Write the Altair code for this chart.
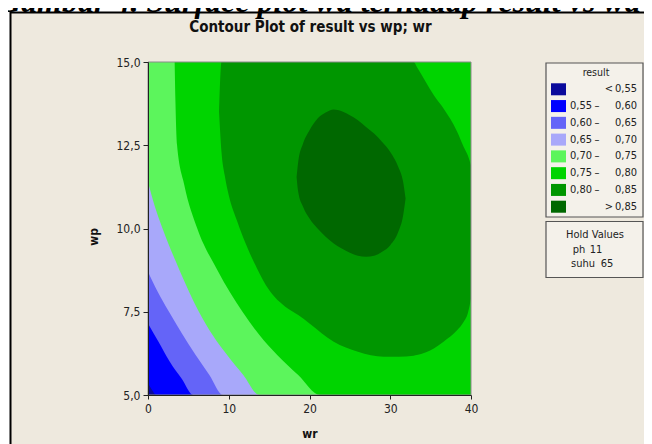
import altair as alt
import pandas as pd

# ---------------- data ----------------
# Each contour band is drawn as its super-level region (result > level):
# for every wr sample, the region spans wp from *_lo to *_hi.
base_wr = [0, 40]
base_lo = [5.0, 5.0]
base_hi = [15.0, 15.0]

r055_wr = [0, 0.5, 1.0, 40]
r055_lo = [5.35, 5.15, 5.0, 5.0]
r055_hi = [15, 15, 15, 15]

r060_wr = [0, 1.3, 2.7, 4.2, 5.6, 40]
r060_lo = [7.15, 6.6, 6.0, 5.48, 5.0, 5.0]
r060_hi = [15, 15, 15, 15, 15, 15]

r065_wr = [0, 1.2, 2.6, 4.2, 5.9, 7.6, 9.3, 40]
r065_lo = [8.7, 8.1, 7.5, 6.85, 6.2, 5.6, 5.0, 5.0]
r065_hi = [15, 15, 15, 15, 15, 15, 15, 15]

r070_wr = [0, 0.8, 1.8, 3.9, 6.3, 8.0, 9.8, 11.8, 13.8, 40]
r070_lo = [11.4, 10.7, 10.0, 8.75, 7.5, 6.8, 6.2, 5.6, 5.0, 5.0]
r070_hi = [15, 15, 15, 15, 15, 15, 15, 15, 15, 15]

r075_wr = [3.3, 3.4, 3.6, 4.5, 6.1, 8.6, 11.7, 13.8, 16.0, 18.6, 21.3, 40]
r075_lo = [15, 13.8, 12.5, 11.3, 10.0, 8.75, 7.5, 6.8, 6.2, 5.6, 5.0, 5.0]
r075_hi = [15, 15, 15, 15, 15, 15, 15, 15, 15, 15, 15, 15]

r080_wr = [8.8, 9.1, 9.5, 10.0, 11.0, 12.0, 13.5, 15.0, 17.0, 18.6, 20.0, 23.0,
           26.0, 29.2, 31.0, 32.9, 33.3, 35.4, 36.6, 38.3, 39.1, 39.6, 40.0]
r080_lo = [13.5, 12.3, 11.6, 11.0, 10.25, 9.6, 8.8, 8.15, 7.65, 7.4, 7.15, 6.6,
           6.3, 6.15, 6.15, 6.18, 6.2, 6.4, 6.6, 6.95, 7.2, 7.45, 7.9]
r080_hi = [13.5, 15, 15, 15, 15, 15, 15, 15, 15, 15, 15, 15,
           15, 15, 15, 15, 14.85, 14.0, 13.6, 12.9, 12.45, 12.2, 11.9]

r085_wr = [18.4, 18.6, 19.2, 20, 21, 22, 23, 24, 25, 26, 27, 28, 29, 30, 31, 31.6, 31.9]
r085_lo = [11.55, 11.1, 10.65, 10.3, 10.0, 9.75, 9.55, 9.4, 9.27, 9.18, 9.15, 9.18,
           9.3, 9.5, 9.9, 10.4, 10.9]
r085_hi = [11.55, 12.0, 12.55, 12.95, 13.3, 13.48, 13.57, 13.52, 13.4, 13.25, 13.05,
           12.85, 12.6, 12.3, 11.85, 11.4, 10.9]

band_colors = ["#0A0A9C", "#0000FF", "#6464F8", "#A8A8FA",
               "#5CF55C", "#00D400", "#009600", "#006800"]
legend_lo = ["", "0,55", "0,60", "0,65", "0,70", "0,75", "0,80", ""]
legend_sep = ["<", "\u2013", "\u2013", "\u2013", "\u2013", "\u2013", "\u2013", ">"]
legend_hi = ["0,55", "0,60", "0,65", "0,70", "0,75", "0,80", "0,85", "0,85"]

hold_names = ["ph", "suhu"]
hold_values = ["11", "65"]

x_ticks = [0, 10, 20, 30, 40]
y_ticks = [5.0, 7.5, 10.0, 12.5, 15.0]

# ---------------- styling ----------------
W, H = 323, 333
BG = "#EEE9DE"
FONT = "DejaVu Sans Condensed, DejaVu Sans"
one = pd.DataFrame({"k": [0]})

xscale = alt.Scale(domain=[0, 40], nice=False, zero=False)
yscale = alt.Scale(domain=[5, 15], nice=False, zero=False)
xaxis = alt.Axis(values=x_ticks, format="d", title="wr", titleFont=FONT,
                 titleFontSize=12, titleFontWeight="bold", titleColor="#111",
                 titleX=W / 2, titleY=38, titleBaseline="middle",
                 labelFont=FONT, labelFontSize=12, labelColor="#222",
                 labelPadding=4, tickSize=4, tickColor="#222",
                 domainColor="#222", grid=False, labelFlush=False, zindex=1)
yaxis = alt.Axis(values=y_ticks, title="wp", titleFont=FONT, titleFontSize=12,
                 titleFontWeight="bold", titleColor="#111", titleAngle=-90,
                 titleX=-55, titleY=H / 2 + 8, titleBaseline="middle",
                 labelExpr="replace(format(datum.value, '.1f'), '.', ',')",
                 labelFont=FONT, labelFontSize=12, labelColor="#222",
                 labelPadding=3, tickSize=5, tickColor="#222",
                 domainColor="#222", grid=False, labelFlush=False, zindex=1)


def region(wr, lo, hi, color):
    df = pd.DataFrame({"wr": wr, "lo": lo, "hi": hi})
    return alt.Chart(df).mark_area(color=color, interpolate="monotone", clip=True).encode(
        x=alt.X("wr:Q", scale=xscale, axis=xaxis),
        y=alt.Y("lo:Q", scale=yscale, axis=yaxis),
        y2="hi:Q",
    )


regions = [
    (base_wr, base_lo, base_hi),
    (r055_wr, r055_lo, r055_hi),
    (r060_wr, r060_lo, r060_hi),
    (r065_wr, r065_lo, r065_hi),
    (r070_wr, r070_lo, r070_hi),
    (r075_wr, r075_lo, r075_hi),
    (r080_wr, r080_lo, r080_hi),
    (r085_wr, r085_lo, r085_hi),
]
contour = alt.layer(*[region(w, l, h, c) for (w, l, h), c in zip(regions, band_colors)])

# decorations (page frame, top cut caption, title, plot border)
frame = alt.Chart(one).mark_rect(fill=BG, stroke="#000", strokeWidth=2).encode(
    x=alt.value(-137.5), x2=alt.value(520), y=alt.value(-49.5), y2=alt.value(400))
caption = alt.Chart(one).mark_text(
    text="Gambar 4.  Surface plot wa terhadap result vs wa", font="Liberation Serif",
    fontSize=32, fontWeight="bold", fontStyle="italic", align="left",
    baseline="alphabetic", color="#000").encode(x=alt.value(-150), y=alt.value(-50))
title = alt.Chart(one).mark_text(
    text="Contour Plot of result vs wp; wr", font=FONT, fontSize=15,
    fontWeight="bold", align="center", baseline="middle", color="#111").encode(
    x=alt.value(W / 2 + 1), y=alt.value(-35))
border = alt.Chart(one).mark_rect(filled=False, stroke="#8a8a8a", strokeWidth=1).encode(
    x=alt.value(0), x2=alt.value(W), y=alt.value(0), y2=alt.value(H))

# legend
leg = pd.DataFrame({"row": list(range(8)), "color": band_colors,
                    "lo": legend_lo, "sep": legend_sep, "hi": legend_hi})
yleg = alt.Y("row:O", axis=None,
             scale=alt.Scale(type="band", range=[18.9, 153.1],
                             paddingInner=0.284, paddingOuter=0.142))
box_style = dict(fill="#F4F1EA", stroke="#555", strokeWidth=1.2)
leg_box = alt.Chart(one).mark_rect(**box_style).encode(
    x=alt.value(398), x2=alt.value(495), y=alt.value(1), y2=alt.value(155))
hold_box = alt.Chart(one).mark_rect(**box_style).encode(
    x=alt.value(398), x2=alt.value(495), y=alt.value(159.5), y2=alt.value(215.5))
leg_title = alt.Chart(one).mark_text(text="result", font=FONT, fontSize=10.5,
                                     color="#222", baseline="middle").encode(
    x=alt.value(448), y=alt.value(11))
tstyle = dict(font=FONT, fontSize=11, color="#222", baseline="middle")
swatch = alt.Chart(leg).mark_rect().encode(
    x=alt.value(403), x2=alt.value(418), y=yleg, color=alt.Color("color:N", scale=None))
t_lo = alt.Chart(leg).mark_text(align="left", **tstyle).encode(
    x=alt.value(422), y=yleg, text="lo:N")
t_dash = alt.Chart(leg).mark_text(align="center", **tstyle).transform_filter(
    "datum.sep == '\u2013'").encode(x=alt.value(449), y=yleg, text="sep:N")
t_cmp = alt.Chart(leg).mark_text(align="center", **tstyle).transform_filter(
    "datum.sep != '\u2013'").encode(x=alt.value(461), y=yleg, text="sep:N")
t_hi = alt.Chart(leg).mark_text(align="right", **tstyle).encode(
    x=alt.value(489), y=yleg, text="hi:N")
legend = alt.layer(swatch, t_lo, t_dash, t_cmp, t_hi)

hold_title = alt.Chart(one).mark_text(text="Hold Values", font=FONT, fontSize=11,
                                      color="#222", baseline="middle").encode(
    x=alt.value(447), y=alt.value(173))
hold_marks = []
name_x = [431, 435]
val_x = [448, 459]
row_y = [188, 201.5]
for i in range(len(hold_names)):
    hold_marks.append(alt.Chart(one).mark_text(text=hold_names[i], **tstyle).encode(
        x=alt.value(name_x[i]), y=alt.value(row_y[i])))
    hold_marks.append(alt.Chart(one).mark_text(text=hold_values[i], **tstyle).encode(
        x=alt.value(val_x[i]), y=alt.value(row_y[i])))

chart = alt.layer(
    frame, caption, title,
    contour, border,
    leg_box, hold_box, leg_title, legend, hold_title, *hold_marks,
).resolve_scale(y="independent").properties(
    width=W, height=H,
    autosize=alt.AutoSizeParams(type="none"),
    padding={"left": 140, "top": 54, "right": 173, "bottom": 49},
).configure(background="white").configure_view(stroke=None)

chart.save("out.html", embed_options={"renderer": "svg", "actions": False})
